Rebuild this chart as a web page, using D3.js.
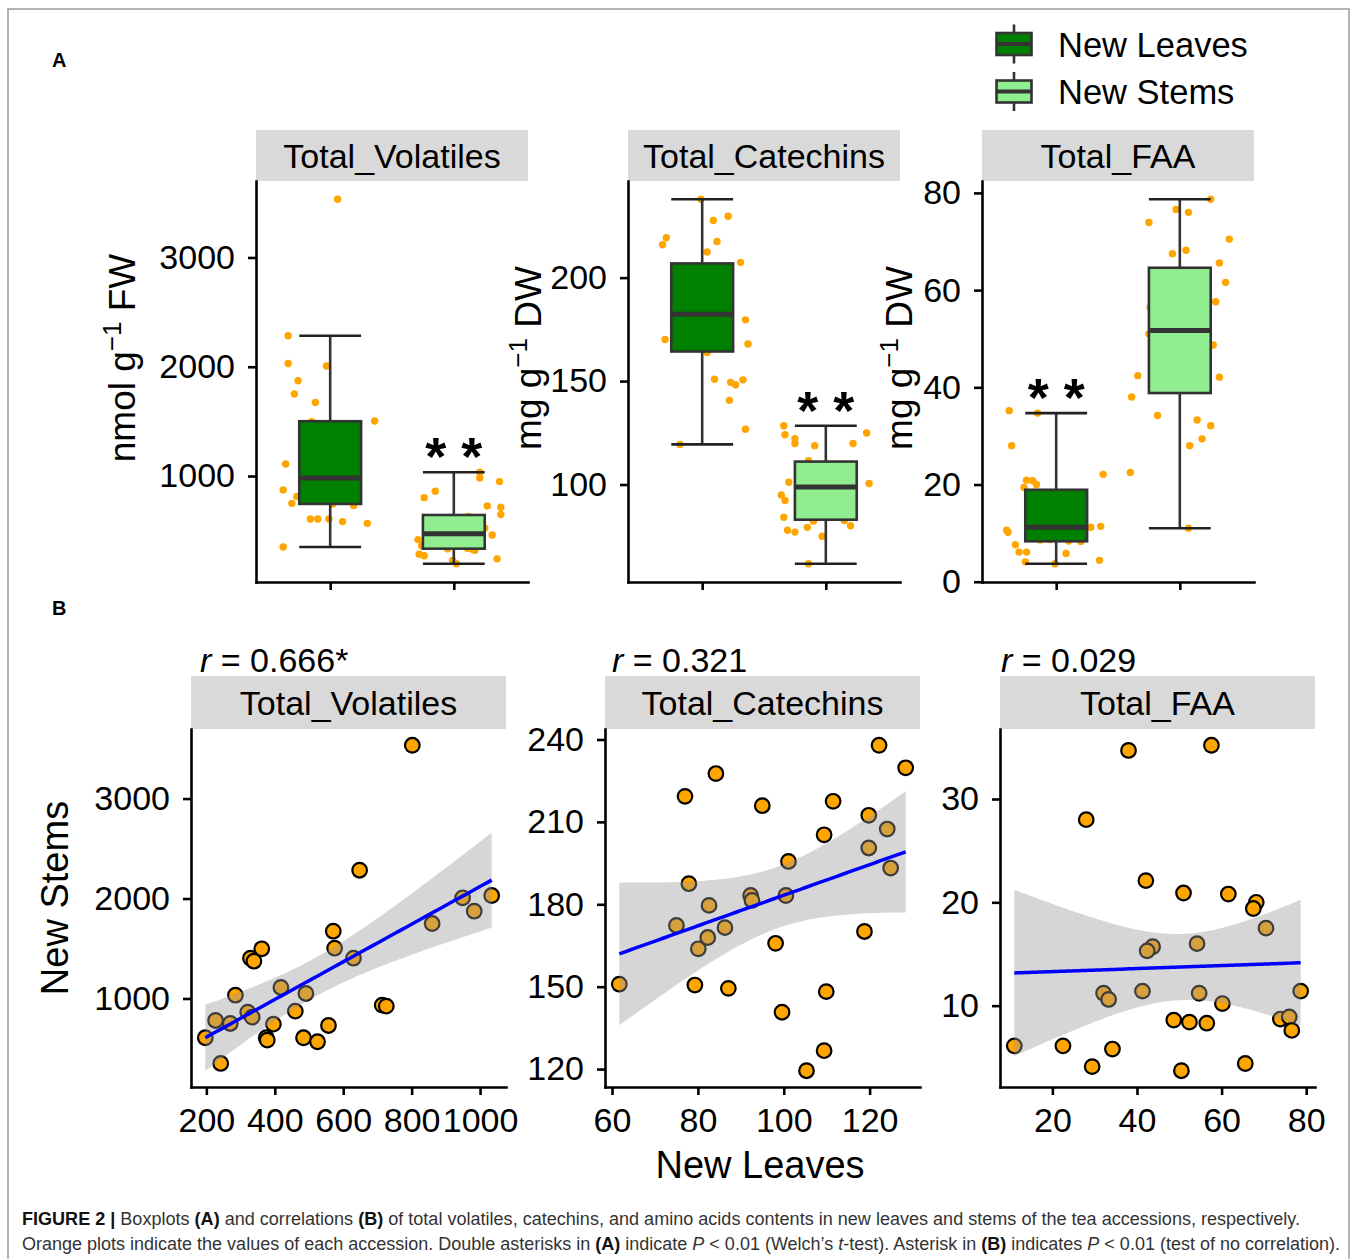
<!DOCTYPE html>
<html><head><meta charset="utf-8">
<script src="https://cdn.jsdelivr.net/npm/d3@7"></script>
<style>
body{margin:0;background:#fff}
svg{display:block}
text{font-family:"Liberation Sans",Arial,Helvetica,sans-serif}
</style>
</head><body>
<svg id="chart" width="1357" height="1259"></svg>
<script>
// ---------------- DATA ----------------
const panelNames = ["Total_Volatiles", "Total_Catechins", "Total_FAA"];
const boxGroups = ["New Leaves", "New Stems"];
const boxFills = ["#008000", "#90EE90"];

// correlation panels (B): x = New Leaves axis, y = New Stems axis
const volX = [802, 648, 1034, 949, 983, 860, 571, 575, 630, 362, 329, 339, 418, 285, 491, 321, 334, 227, 270, 460, 396, 714, 726, 557, 197, 375, 378, 484, 525, 242];
const volY = [3533, 2283, 2030, 2007, 1873, 1750, 1673, 1503, 1403, 1497, 1403, 1373, 1110, 1033, 1050, 863, 813, 780, 750, 873, 743, 933, 923, 730, 607, 607, 583, 607, 567, 350];
const catX = [122.2, 128.4, 84.2, 77.0, 95.0, 111.5, 119.8, 124.1, 109.4, 119.8, 101.1, 124.9, 77.9, 92.3, 92.6, 100.5, 82.6, 75.0, 86.3, 82.3, 80.1, 98.1, 118.8, 61.7, 79.3, 87.1, 109.9, 99.6, 109.4, 105.3];
const catY = [237.9, 229.7, 227.6, 219.3, 215.9, 217.5, 212.4, 207.4, 205.3, 200.5, 195.6, 193.2, 187.5, 183.2, 181.4, 183.2, 179.6, 172.3, 171.5, 167.9, 163.8, 165.8, 170.1, 150.9, 150.6, 149.4, 148.2, 140.7, 126.7, 119.4];
const faaX = [57.6, 38.0, 28.0, 42.1, 51.0, 61.6, 68.2, 67.5, 70.5, 54.2, 43.7, 42.4, 32.1, 33.3, 41.3, 54.7, 60.2, 78.7, 48.7, 52.4, 56.5, 73.9, 76.0, 76.6, 11.0, 22.5, 34.2, 29.4, 65.6, 50.5];
const faaY = [35.2, 34.7, 28.0, 22.1, 20.9, 20.8, 20.0, 19.4, 17.5, 16.0, 15.7, 15.3, 11.2, 10.6, 11.4, 11.2, 10.2, 11.4, 8.6, 8.4, 8.3, 8.7, 8.9, 7.6, 6.1, 6.1, 5.8, 4.1, 4.4, 3.7];

// horizontal jitter of the orange dots in the boxplots (A), fraction of category step
const volJitLeaves = [0.06, -0.34, -0.34, -0.03, -0.26, -0.29, -0.12, 0.36, -0.10, -0.15, 0.05, 0.15, -0.36, 0.10, -0.05, 0.12, -0.27, 0.08, -0.31, -0.38, 0.02, -0.08, 0.20, 0.19, -0.16, -0.10, 0.10, -0.01, 0.30, -0.38];
const volJitStems = [-0.24, 0.38, 0.21, 0.37, 0.21, -0.15, 0.05, -0.10, 0.12, -0.26, 0.15, 0.11, -0.29, -0.28, 0.00, 0.17, -0.05, -0.01, -0.24, 0.31, 0.08, 0.38, 0.27, -0.18, 0.02, -0.12, 0.20, -0.20, 0.25, 0.35];
const catJitLeaves = [-0.01, 0.21, 0.09, -0.29, -0.32, 0.12, 0.04, 0.31, -0.10, 0.20, -0.05, 0.10, -0.20, 0.00, 0.15, -0.12, 0.35, 0.05, -0.15, 0.37, 0.04, -0.10, -0.30, 0.10, 0.33, 0.23, 0.27, 0.22, 0.35, -0.18];
const catJitStems = [-0.25, -0.34, -0.34, -0.25, -0.36, -0.14, -0.25, -0.33, 0.10, 0.22, -0.30, 0.33, -0.31, -0.33, 0.10, 0.35, 0.15, -0.03, 0.05, -0.10, 0.20, 0.00, -0.09, -0.14, -0.15, 0.12, -0.05, 0.18, 0.20, -0.20];
const faaJitLeaves = [-0.38, -0.15, -0.36, 0.38, -0.24, -0.19, -0.16, -0.26, 0.05, -0.10, 0.15, 0.00, 0.28, -0.40, 0.36, 0.10, -0.39, -0.05, -0.13, 0.10, 0.20, -0.05, 0.15, -0.33, -0.30, -0.24, 0.08, -0.25, 0.35, -0.01];
const faaJitStems = [0.29, -0.39, 0.08, 0.32, -0.25, 0.37, 0.05, -0.06, 0.40, 0.10, 0.00, -0.34, 0.25, 0.14, 0.15, -0.10, 0.20, 0.25, 0.27, -0.05, -0.24, -0.25, 0.07, -0.03, 0.07, -0.40, -0.18, 0.18, 0.32, 0.12];

const yTitlesA = [["nmol g", "\u22121", " FW"], ["mg g", "\u22121", " DW"], ["mg g", "\u22121", " DW"]];
const ticksA = [[1000, 2000, 3000], [100, 150, 200], [0, 20, 40, 60, 80]];
const sigGroup = ["New Stems", "New Stems", "New Leaves"];
const rLabels = ["0.666*", "0.321", "0.029"];
const ticksBx = [[200, 400, 600, 800, 1000], [60, 80, 100, 120], [20, 40, 60, 80]];
const ticksBy = [[1000, 2000, 3000], [120, 150, 180, 210, 240], [10, 20, 30]];
const tCrit = 2.048; // t(0.975, df = 28)

// ---------------- LAYOUT ----------------
const FONT = '"Liberation Sans", Arial, Helvetica, sans-serif';
const fmt = d3.format("d");
const svg = d3.select("#chart");
svg.append("rect").attr("width", 1357).attr("height", 1259).attr("fill", "#fff");
svg.append("path").attr("d", "M8,1259V9H1349V1259").attr("fill", "none").attr("stroke", "#9a9a9a").attr("stroke-width", 1.5);

const xs = [volX, catX, faaX], ys = [volY, catY, faaY];
const jitL = [volJitLeaves, catJitLeaves, faaJitLeaves], jitS = [volJitStems, catJitStems, faaJitStems];

function styleAxis(g) {
  g.attr("font-size", 34).attr("font-family", FONT);
  g.select(".domain").attr("stroke", "#000").attr("stroke-width", 2.6).attr("stroke-linecap", "square");
  g.selectAll(".tick line").attr("stroke", "#000").attr("stroke-width", 2.6);
  g.selectAll(".tick text").attr("fill", "#000");
}
function expand(ext) { const r = ext[1] - ext[0]; return [ext[0] - 0.05 * r, ext[1] + 0.05 * r]; }

// panel labels
svg.append("text").attr("x", 52).attr("y", 67).style("font-weight", "bold").style("font-size", "20px").text("A");
svg.append("text").attr("x", 52).attr("y", 615).style("font-weight", "bold").style("font-size", "20px").text("B");

// ---------- A: boxplots ----------
const aLeft = [256, 628, 982], aWidth = 272, aTop = 181, aBottom = 582, aStripTop = 130;
const aTitleX = [135, 541, 912];
for (let i = 0; i < 3; i++) {
  const L = aLeft[i];
  const groupVals = [ys[i], xs[i]];
  const groupJit = [jitL[i], jitS[i]];
  const all = groupVals[0].concat(groupVals[1]);
  const y = d3.scaleLinear().domain(expand(d3.extent(all))).range([aBottom, aTop]);
  const x = d3.scalePoint().domain(boxGroups).range([L, L + aWidth]).padding(0.6);
  const step = x.step(), bw = step * 0.5;

  // strip
  svg.append("rect").attr("x", L).attr("y", aStripTop).attr("width", aWidth).attr("height", aTop - aStripTop).attr("fill", "#D9D9D9");
  svg.append("text").attr("x", L + aWidth / 2).attr("y", aStripTop + 38).attr("text-anchor", "middle").style("font-size", "34px").text(panelNames[i]);

  const g = svg.append("g");
  // jittered points
  boxGroups.forEach((grp, k) => {
    g.selectAll(null).data(groupVals[k]).enter().append("circle")
      .attr("cx", (d, j) => x(grp) + groupJit[k][j] * step)
      .attr("cy", d => y(d)).attr("r", 3.7).attr("fill", "#FFA500");
  });
  // boxes
  boxGroups.forEach((grp, k) => {
    const v = groupVals[k].slice().sort(d3.ascending);
    const q1 = d3.quantileSorted(v, 0.25), med = d3.quantileSorted(v, 0.5), q3 = d3.quantileSorted(v, 0.75);
    const iqr = q3 - q1;
    const hi = d3.max(v.filter(d => d <= q3 + 1.5 * iqr));
    const lo = d3.min(v.filter(d => d >= q1 - 1.5 * iqr));
    const cx = x(grp);
    g.append("line").attr("x1", cx).attr("x2", cx).attr("y1", y(hi)).attr("y2", y(lo)).attr("stroke", "#333").attr("stroke-width", 2.6);
    [hi, lo].forEach(w => g.append("line").attr("x1", cx - bw / 2).attr("x2", cx + bw / 2).attr("y1", y(w)).attr("y2", y(w)).attr("stroke", "#222").attr("stroke-width", 2.6));
    g.append("rect").attr("x", cx - bw / 2).attr("y", y(q3)).attr("width", bw).attr("height", y(q1) - y(q3))
      .attr("fill", boxFills[k]).attr("stroke", "#333").attr("stroke-width", 2.6);
    g.append("line").attr("x1", cx - bw / 2).attr("x2", cx + bw / 2).attr("y1", y(med)).attr("y2", y(med)).attr("stroke", "#333").attr("stroke-width", 5);
    if (sigGroup[i] === grp) {
      g.append("text").attr("x", cx).attr("y", y(hi) + 3).attr("text-anchor", "middle")
        .style("font-size", "54px").style("font-weight", "bold").text("* *");
    }
  });

  // axes
  styleAxis(svg.append("g").attr("transform", `translate(${L},0)`)
    .call(d3.axisLeft(y).tickValues(ticksA[i]).tickFormat(fmt).tickSize(8).tickSizeOuter(0).tickPadding(13)));
  styleAxis(svg.append("g").attr("transform", `translate(0,${aBottom})`)
    .call(d3.axisBottom(x).tickSize(8).tickSizeOuter(0).tickFormat("")));

  // y title
  const t = svg.append("text").attr("transform", `translate(${aTitleX[i]},358) rotate(-90)`).attr("text-anchor", "middle").style("font-size", "37px");
  t.append("tspan").text(yTitlesA[i][0]);
  t.append("tspan").attr("dy", -14).style("font-size", "26px").text(yTitlesA[i][1]);
  t.append("tspan").attr("dy", 14).text(yTitlesA[i][2]);
}

// legend
const legY = [44, 91.5];
boxGroups.forEach((grp, k) => {
  const yc = legY[k];
  svg.append("line").attr("x1", 1014).attr("x2", 1014).attr("y1", yc - 19.5).attr("y2", yc + 19.5).attr("stroke", "#333").attr("stroke-width", 2.6);
  svg.append("rect").attr("x", 996.5).attr("y", yc - 11).attr("width", 35).attr("height", 22).attr("fill", boxFills[k]).attr("stroke", "#333").attr("stroke-width", 2.6);
  svg.append("line").attr("x1", 996.5).attr("x2", 1031.5).attr("y1", yc).attr("y2", yc).attr("stroke", "#333").attr("stroke-width", 4);
  svg.append("text").attr("x", 1058).attr("y", yc + 12.5).style("font-size", "34.5px").text(grp);
});

// ---------- B: correlations ----------
const bLeft = [191, 605, 1000], bWidth = 315, bTop = 729, bBottom = 1087, bStripTop = 676;
const rX = [200, 612, 1001];
for (let i = 0; i < 3; i++) {
  const L = bLeft[i], X = xs[i], Y = ys[i], n = X.length;
  const xbar = d3.mean(X), ybar = d3.mean(Y);
  const Sxx = d3.sum(X, d => (d - xbar) ** 2);
  const Sxy = d3.sum(X.map((d, j) => (d - xbar) * (Y[j] - ybar)));
  const b = Sxy / Sxx, a = ybar - b * xbar;
  const s = Math.sqrt(d3.sum(X.map((d, j) => (Y[j] - a - b * d) ** 2)) / (n - 2));
  const xExt = d3.extent(X);
  const band = d3.range(81).map(k => {
    const xv = xExt[0] + (xExt[1] - xExt[0]) * k / 80;
    const fit = a + b * xv;
    const se = s * Math.sqrt(1 / n + (xv - xbar) ** 2 / Sxx);
    return { x: xv, fit, lo: fit - tCrit * se, hi: fit + tCrit * se };
  });
  const yExt = d3.extent(Y.concat(band.map(d => d.lo), band.map(d => d.hi)));
  const x = d3.scaleLinear().domain(expand(xExt)).range([L, L + bWidth]);
  const y = d3.scaleLinear().domain(expand(yExt)).range([bBottom, bTop]);

  svg.append("rect").attr("x", L).attr("y", bStripTop).attr("width", bWidth).attr("height", bTop - bStripTop).attr("fill", "#D9D9D9");
  svg.append("text").attr("x", L + bWidth / 2).attr("y", bStripTop + 39).attr("text-anchor", "middle").style("font-size", "34px").text(panelNames[i]);
  const rt = svg.append("text").attr("x", rX[i]).attr("y", 672).style("font-size", "34px");
  rt.append("tspan").style("font-style", "italic").text("r");
  rt.append("tspan").text(" = " + rLabels[i]);

  const g = svg.append("g");
  g.selectAll(null).data(X).enter().append("circle")
    .attr("cx", d => x(d)).attr("cy", (d, j) => y(Y[j])).attr("r", 7.3)
    .attr("fill", "#FFA500").attr("stroke", "#000").attr("stroke-width", 2.2);
  g.append("path").datum(band).attr("fill", "#999999").attr("fill-opacity", 0.4)
    .attr("d", d3.area().x(d => x(d.x)).y0(d => y(d.lo)).y1(d => y(d.hi)));
  g.append("path").datum(band).attr("fill", "none").attr("stroke", "#0000FF").attr("stroke-width", 3.5)
    .attr("d", d3.line().x(d => x(d.x)).y(d => y(d.fit)));

  styleAxis(svg.append("g").attr("transform", `translate(${L},0)`)
    .call(d3.axisLeft(y).tickValues(ticksBy[i]).tickFormat(fmt).tickSize(8).tickSizeOuter(0).tickPadding(13)));
  styleAxis(svg.append("g").attr("transform", `translate(0,${bBottom})`)
    .call(d3.axisBottom(x).tickValues(ticksBx[i]).tickFormat(fmt).tickSize(8).tickSizeOuter(0).tickPadding(13)));
}
svg.append("text").attr("transform", "translate(68,898) rotate(-90)").attr("text-anchor", "middle").style("font-size", "38px").text("New Stems");
svg.append("text").attr("x", 760).attr("y", 1178).attr("text-anchor", "middle").style("font-size", "38px").text("New Leaves");

// ---------- caption ----------
const cap1 = [["FIGURE 2 |", "b"], [" Boxplots ", ""], ["(A)", "b"], [" and correlations ", ""], ["(B)", "b"],
  [" of total volatiles, catechins, and amino acids contents in new leaves and stems of the tea accessions, respectively.", ""]];
const cap2 = [["Orange plots indicate the values of each accession. Double asterisks in ", ""], ["(A)", "b"], [" indicate ", ""], ["P", "i"],
  [" < 0.01 (Welch\u2019s ", ""], ["t", "i"], ["-test). Asterisk in ", ""], ["(B)", "b"], [" indicates ", ""], ["P", "i"], [" < 0.01 (test of no correlation).", ""]];
[[cap1, 1225, 1278], [cap2, 1250, 1318]].forEach(([parts, yy, len]) => {
  const t = svg.append("text").attr("x", 22).attr("y", yy).style("font-size", "17.5px").attr("fill", "#333")
    .attr("textLength", len).attr("lengthAdjust", "spacingAndGlyphs");
  parts.forEach(([s, st]) => {
    const sp = t.append("tspan").text(s);
    if (st === "b") sp.style("font-weight", "bold").attr("fill", "#111");
    if (st === "i") sp.style("font-style", "italic");
  });
});
</script>
</body></html>
